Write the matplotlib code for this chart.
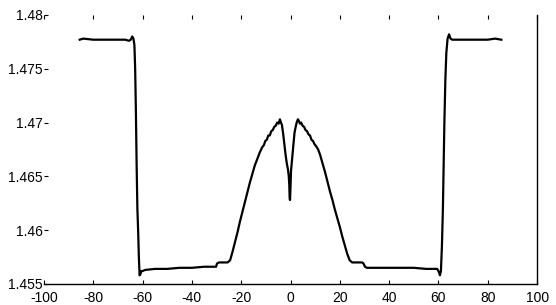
import numpy as np
import matplotlib.pyplot as plt

plt.rcParams['font.family'] = ['Liberation Sans', 'DejaVu Sans']
plt.rcParams['axes.unicode_minus'] = False

pos = [-85.5, -84.0, -80.0, -75.0, -70.0, -67.0, -65.5, -64.8, -64.2, -63.7,
       -63.3, -63.0, -62.7, -62.4, -62.1, -61.8, -61.5, -61.2, -60.9, -60.5,
       -60.0, -59.0, -55.0, -50.0, -45.0, -40.0, -35.0, -31.0, -30.2, -29.8,
       -29.0, -27.0, -25.5, -24.5, -23.5, -22.5, -21.5, -20.5, -19.5, -18.5,
       -17.5, -16.5, -15.5, -14.5, -13.5, -12.5, -11.5, -10.8, -10.2, -9.6,
       -9.0, -8.4, -7.8, -7.2, -6.6, -6.0, -5.4, -4.8, -4.3, -3.9,
       -3.5, -3.0, -2.5, -2.0, -1.5, -1.0, -0.7, -0.5, -0.35, -0.2,
       0.0, 0.2, 0.5, 0.8, 1.2, 1.6, 2.0, 2.5, 3.0, 3.3,
       3.8, 4.3, 4.9, 5.5, 6.1, 6.7, 7.3, 7.9, 8.5, 9.1,
       9.7, 10.4, 11.2, 12.0, 13.0, 14.0, 15.0, 16.0, 17.0, 18.0,
       19.0, 20.0, 21.0, 22.0, 23.0, 24.0, 25.0, 27.0, 29.0, 29.6,
       30.2, 31.0, 35.0, 40.0, 45.0, 50.0, 55.0, 58.0, 59.5, 60.2,
       60.6, 61.0, 61.4, 61.8, 62.1, 62.4, 62.8, 63.2, 63.7, 64.3,
       64.9, 65.6, 67.0, 70.0, 75.0, 80.0, 83.0, 85.5]
ri = [1.4777, 1.4778, 1.4777, 1.4777, 1.4777, 1.4777, 1.4776, 1.4777, 1.4780, 1.4778,
      1.4772, 1.4750, 1.4710, 1.4660, 1.4620, 1.4600, 1.4575, 1.4558, 1.4559, 1.4562,
      1.4562, 1.4563, 1.4564, 1.4564, 1.4565, 1.4565, 1.4566, 1.4566, 1.4566, 1.4569,
      1.4570, 1.4570, 1.4570, 1.4572, 1.4580, 1.4589, 1.4598, 1.4608, 1.4617, 1.4626,
      1.4635, 1.4644, 1.4652, 1.4660, 1.4666, 1.4672, 1.4677, 1.4679, 1.4683, 1.4684,
      1.4688, 1.4688, 1.4692, 1.4693, 1.4696, 1.4697, 1.4700, 1.4699, 1.4703, 1.4700,
      1.4698, 1.4690, 1.4680, 1.4670, 1.4662, 1.4656, 1.4650, 1.4642, 1.4630, 1.4628,
      1.4640, 1.4655, 1.4662, 1.4670, 1.4680, 1.4690, 1.4695, 1.4700, 1.4703, 1.4702,
      1.4699, 1.4700, 1.4697, 1.4696, 1.4693, 1.4692, 1.4689, 1.4688, 1.4684, 1.4683,
      1.4680, 1.4678, 1.4675, 1.4670, 1.4662, 1.4654, 1.4645, 1.4636, 1.4628, 1.4619,
      1.4611, 1.4603, 1.4594, 1.4586, 1.4578, 1.4572, 1.4570, 1.4570, 1.4570, 1.4569,
      1.4566, 1.4565, 1.4565, 1.4565, 1.4565, 1.4565, 1.4564, 1.4564, 1.4564, 1.4561,
      1.4558, 1.4562, 1.4585, 1.4620, 1.4660, 1.4700, 1.4740, 1.4765, 1.4778, 1.4782,
      1.4778, 1.4777, 1.4777, 1.4777, 1.4777, 1.4777, 1.4778, 1.4777]

xticks = [-100, -80, -60, -40, -20, 0, 20, 40, 60, 80, 100]
yticks = [1.455, 1.46, 1.465, 1.47, 1.475, 1.48]
yticklabels = ['1.455', '1.46', '1.465', '1.47', '1.475', '1.48']

fig = plt.figure(figsize=(5.56, 3.05), dpi=100)
ax = fig.add_axes([0.079, 0.069, 0.887, 0.882])
ax.plot(pos, ri, color='black', linewidth=1.6)

ax.set_xlim(-100, 100)
ax.set_ylim(1.455, 1.48)
ax.set_xticks(xticks)
ax.set_yticks(yticks)
ax.set_yticklabels(yticklabels)
ax.tick_params(direction='in', length=3, width=0.8, labelsize=10,
               top=True, right=False)
ax.tick_params(axis='x', pad=5)
ax.tick_params(axis='y', pad=1)
ax.spines['left'].set_visible(False)
ax.spines['top'].set_visible(False)
for s in ['right', 'bottom']:
    ax.spines[s].set_linewidth(1.0)

fig.savefig('out.png', dpi=100)
